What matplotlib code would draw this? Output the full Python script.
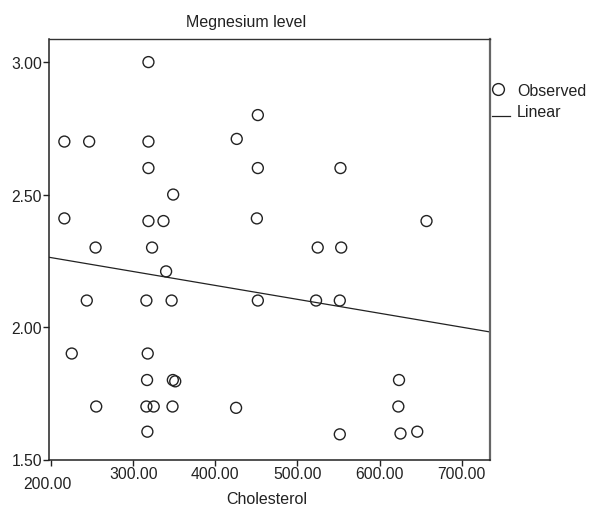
import numpy as np
import matplotlib
matplotlib.use("Agg")
import matplotlib.pyplot as plt
from matplotlib.transforms import ScaledTranslation

cholesterol = [318.6, 451.8, 216.2, 246.4, 318.6, 426.1, 318.6, 451.8, 348.7,
               216.2, 318.6, 336.9, 450.6, 254.2, 323.0, 552.4, 657.2, 524.7,
               553.3, 340.1, 243.5, 316.1, 346.8, 451.8, 225.2, 317.7, 316.9,
               348.3, 351.2, 255.0, 316.1, 325.0, 347.9, 425.3, 317.3, 522.7,
               551.6, 623.7, 622.9, 551.6, 625.5, 645.9]
magnesium = [3.00, 2.80, 2.70, 2.70, 2.70, 2.71, 2.60, 2.60, 2.50,
             2.41, 2.40, 2.40, 2.41, 2.30, 2.30, 2.60, 2.40, 2.30,
             2.30, 2.21, 2.10, 2.10, 2.10, 2.10, 1.90, 1.90, 1.80,
             1.80, 1.795, 1.70, 1.70, 1.70, 1.70, 1.695, 1.605, 2.10,
             2.10, 1.80, 1.70, 1.595, 1.598, 1.605]

# linear fit as drawn in the reference
fit_intercept = 2.367
fit_slope = -0.000525

x_ticks = [200, 300, 400, 500, 600, 700]
y_ticks = [1.50, 2.00, 2.50, 3.00]

plt.rcParams['font.family'] = ['Liberation Sans', 'DejaVu Sans']

fig = plt.figure(figsize=(5.89, 5.10), dpi=100)
ax = fig.add_axes([49 / 589, 1 - 460.5 / 510, 441 / 589, 420.2 / 510])

xlim = (197.5, 734.5)
ax.set_xlim(*xlim)
ax.set_ylim(1.5, 3.086)

ax.scatter(cholesterol, magnesium, s=62, facecolors='none', edgecolors='#222222',
           linewidths=1.0, zorder=3)

xs = np.array(xlim)
ax.plot(xs, fit_intercept + fit_slope * xs, color='#222222', lw=0.9, zorder=2)

ax.set_xticks(x_ticks)
ax.set_xticklabels([f'{v:.2f}' for v in x_ticks])
ax.set_yticks(y_ticks)
ax.set_yticklabels([f'{v:.2f}' for v in y_ticks])
ax.tick_params(direction='out', length=4, width=1.0, pad=1, labelsize=11.3,
               colors='#222222')

# SPSS pushes the corner label down and left
lab = ax.get_xticklabels()[0]
lab.set_transform(lab.get_transform() + ScaledTranslation(-0.04, -0.10, fig.dpi_scale_trans))

for side in ['left', 'bottom']:
    ax.spines[side].set_color('#222222')
    ax.spines[side].set_linewidth(1.1)
ax.spines['top'].set_color('#333333')
ax.spines['top'].set_linewidth(1.0)
ax.spines['right'].set_color('#666666')
ax.spines['right'].set_linewidth(1.6)

fig.text(246.5 / 589, 1 - 22 / 510, 'Megnesium level', ha='center', va='center',
         fontsize=11.5, color='#222222')
fig.text(267 / 589, 1 - 500 / 510, 'Cholesterol', ha='center', va='center',
         fontsize=11.5, color='#222222')

# legend outside the plot, drawn by hand in figure pixels
fig.lines.append(plt.Line2D([498 / 589], [1 - 90 / 510], marker='o', ms=8.5,
                            mfc='none', mec='#222222', mew=1.0, ls='none',
                            transform=fig.transFigure))
fig.text(517 / 589, 1 - 91 / 510, 'Observed', ha='left', va='center',
         fontsize=11.5, color='#222222')
fig.lines.append(plt.Line2D([492 / 589, 510 / 589], [1 - 117 / 510, 1 - 117 / 510],
                            color='#222222', lw=0.9, transform=fig.transFigure))
fig.text(517 / 589, 1 - 112.5 / 510, 'Linear', ha='left', va='center',
         fontsize=11.5, color='#222222')

fig.savefig('out.png', dpi=100)
